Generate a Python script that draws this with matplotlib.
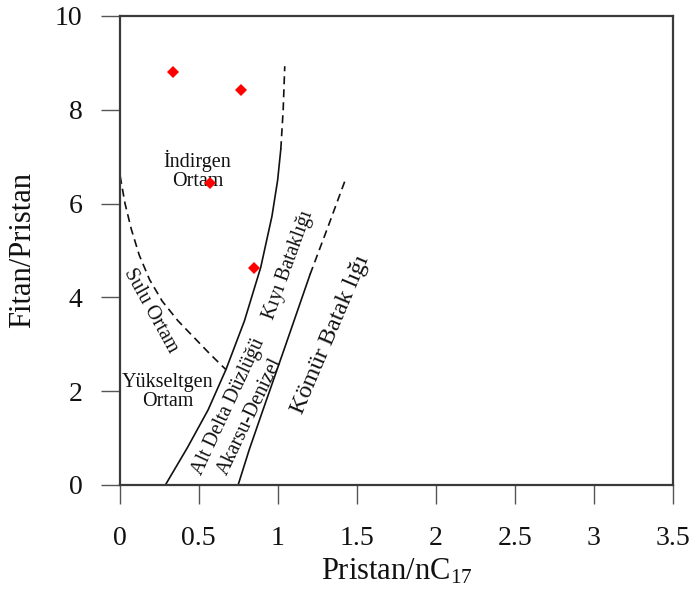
import matplotlib
matplotlib.use("Agg")
import matplotlib.pyplot as plt

plt.rcParams["font.family"] = ["Liberation Serif", "DejaVu Serif"]
plt.rcParams["mathtext.fontset"] = "custom"
plt.rcParams["mathtext.rm"] = "Liberation Serif"
plt.rcParams["mathtext.it"] = "Liberation Serif:italic"

INK, EDGE = "#111111", "#3a3a3a"

# örnekler (Pristan/nC17, Fitan/Pristan)
pr_nc17 = [0.34, 0.77, 0.57, 0.85]
fit_pr = [8.80, 8.42, 6.44, 4.63]

# sınır çizgileri, şekilden okunan noktalar
alt_x = [0.29, 0.43, 0.56, 0.673, 0.79, 0.893, 0.964, 1.00, 1.02]
alt_y = [0.00, 0.80, 1.60, 2.46, 3.50, 4.64, 5.73, 6.50, 7.16]
alt_dash_x = [1.02, 1.035, 1.045]
alt_dash_y = [7.16, 8.00, 8.93]

ak_x = [0.75, 0.82, 0.90, 1.048, 1.205]
ak_y = [0.00, 0.75, 1.53, 2.96, 4.49]
ak_dash_x = [1.205, 1.32, 1.425]
ak_dash_y = [4.49, 5.52, 6.48]

sulu_x = [0.004, 0.035, 0.075, 0.125, 0.19, 0.27, 0.37, 0.47, 0.57, 0.673]
sulu_y = [6.59, 6.00, 5.45, 4.90, 4.38, 3.92, 3.50, 3.15, 2.80, 2.46]

xticks = [0, 0.5, 1, 1.5, 2, 2.5, 3, 3.5]
xtick_labels = ["0", "0.5", "1", "1.5", "2", "2.5", "3", "3.5"]
yticks = [0, 2, 4, 6, 8, 10]

# (metin, x, y, açı, punto)
labels = [
    ("İndirgen\nOrtam", 0.494, 6.71, 0, 14.5),
    ("Yükseltgen\nOrtam", 0.305, 1.99, 0, 14.5),
    ("Sulu Ortam", 0.195, 3.72, -61, 14.5),
    ("Alt Delta Düzlüğü", 0.69, 1.67, 65, 14.5),
    ("Akarsu-Denizel", 0.827, 1.45, 64.5, 14.5),
    ("Kıyı Bataklığı", 1.07, 4.68, 70, 14.5),
    ("Kömür Batak lığı", 1.335, 3.2, 67, 17.5),
]

fig = plt.figure(figsize=(6.95, 6.0), dpi=100, facecolor="white")
W, H = 695, 600
ax = fig.add_axes([119.5 / W, 115 / H, 553.5 / W, 469 / H])

dash = (0, (4.8, 3.0))
ax.plot(alt_x, alt_y, color=INK, lw=1.2)
ax.plot(alt_dash_x, alt_dash_y, color=INK, lw=1.2, ls=dash)
ax.plot(ak_x, ak_y, color=INK, lw=1.2)
ax.plot(ak_dash_x, ak_dash_y, color=INK, lw=1.2, ls=dash)
ax.plot(sulu_x, sulu_y, color=INK, lw=1.2, ls=dash)

ax.plot(pr_nc17, fit_pr, ls="none", marker="D", ms=6.5, color="#ff0000",
        markeredgewidth=0, zorder=5)

for t, x, y, rot, fs in labels:
    ax.text(x, y, t, rotation=rot, rotation_mode="anchor", ha="center",
            va="center", fontsize=fs, color=INK, linespacing=1.0)

ax.set_xlim(0, 3.5)
ax.set_ylim(0, 10)
ax.set_xticks(xticks)
ax.set_xticklabels(xtick_labels)
ax.set_yticks(yticks)
for s in ax.spines.values():
    s.set_color(EDGE)
    s.set_linewidth(1.6)
ax.tick_params(axis="both", direction="out", length=13.7, width=1.0,
               color="#555555", labelsize=20, labelcolor=INK)
ax.tick_params(axis="x", pad=16)
ax.tick_params(axis="y", pad=13)

fig.text(396.5 / W, 1 - 572 / H, "Pristan/nC$_{17}$", ha="center", va="center",
         fontsize=22, color=INK)
fig.text(23 / W, 1 - 250 / H, "Fitan/Pristan", ha="center", va="center",
         rotation=90, fontsize=22, color=INK)

fig.savefig("out.png", dpi=100, facecolor="white")
